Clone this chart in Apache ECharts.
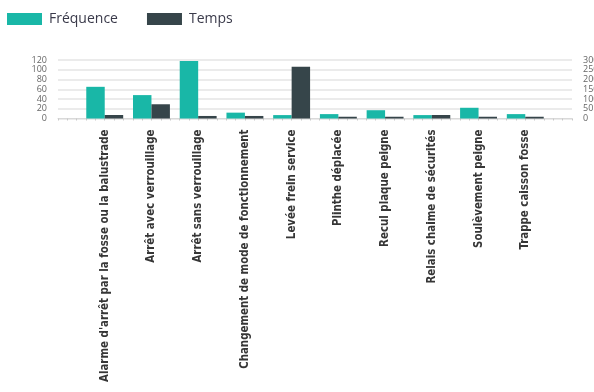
<!DOCTYPE html>
<html>
<head>
<meta charset="utf-8">
<script src="https://cdn.jsdelivr.net/npm/echarts@6/dist/echarts.min.js"></script>
<style>
  html, body { margin: 0; padding: 0; background: #ffffff; }
  #chart { width: 594px; height: 392px; }
</style>
</head>
<body>
<div id="chart"></div>
<script>
// Incident categories (blank slots pad both ends of the axis)
const categories = [
  'Alarme d\'arrêt par la fosse ou la balustrade',
  'Arrêt avec verrouillage',
  'Arrêt sans verrouillage',
  'Changement de mode de fonctionnement',
  'Levée frein service',
  'Plinthe déplacée',
  'Recul plaque peigne',
  'Relais chaime de sécurités',
  'Soulèvement peigne',
  'Trappe caisson fosse'
];
// Number of occurrences (left axis)
const frequence = [65, 48, 118, 12, 7, 9, 17, 7, 22, 9];
// Time (right axis)
const temps = [18, 73, 13, 13, 266, 9, 9, 18, 9, 9];
const leftTicks = [0, 120, 20];
const rightTicks = [0, 300, 50];

const axisCats = [''].concat(categories, ['']);
const pad = v => [null].concat(v, [null]);

// Pick a condensed face for the category labels if one is installed
const ctx = document.createElement('canvas').getContext('2d');
function widthOf(family) {
  ctx.font = 'bold 40px ' + family;
  return ctx.measureText('Changement de mode de fonctionnement').width;
}
const baseW = widthOf('monospace');
let labelFont = 'sans-serif';
for (const f of ['"Liberation Sans Narrow"', '"DejaVu Sans Condensed"', '"Roboto Condensed"']) {
  if (Math.abs(widthOf(f + ', monospace') - baseW) > 0.5) { labelFont = f; break; }
}
// size the labels so the longest one spans about 253px
ctx.font = 'bold 13px ' + labelFont;
const longW = ctx.measureText(categories[0]).width;
const labelSize = Math.min(13, Math.max(10, 13 * 253 / longW));

const chart = echarts.init(document.getElementById('chart'), null, { renderer: 'canvas' });

chart.setOption({
  animation: false,
  textStyle: { fontFamily: '"Open Sans", sans-serif' },
  legend: {
    left: 2, top: 7,
    itemWidth: 35, itemHeight: 12, itemGap: 29,
    icon: 'rect',
    textStyle: { fontSize: 14, color: '#3a3a4a', fontFamily: '"Open Sans", sans-serif', padding: [0, 0, 0, 2] },
    data: ['Fréquence', 'Temps']
  },
  grid: { left: 58, right: 22, top: 60, bottom: 273.5, containLabel: false, outerBoundsMode: 'none' },
  xAxis: [
    {
      type: 'category',
      data: axisCats,
      boundaryGap: false,
      axisLine: { show: true, lineStyle: { color: '#d9d9d9', width: 1 } },
      axisTick: { show: false },
      axisLabel: {
        interval: 0, rotate: 90, margin: 11, hideOverlap: false,
        fontSize: labelSize, fontWeight: 'bold', color: '#363636', fontFamily: labelFont
      },
      splitLine: { show: false }
    },
    {
      // fine tick marks along the base line
      type: 'value', position: 'bottom', min: 0, max: 55, interval: 1,
      axisLine: { show: false },
      axisTick: { show: true, length: 2, lineStyle: { color: '#c8c8c8' } },
      axisLabel: { show: false },
      splitLine: { show: false }
    }
  ],
  yAxis: [
    {
      type: 'value', min: leftTicks[0], max: leftTicks[1], interval: leftTicks[2],
      axisLine: { show: false }, axisTick: { show: false },
      axisLabel: { fontSize: 9, color: '#666', margin: 11, showMinLabel: true, showMaxLabel: true, hideOverlap: false },
      splitLine: { lineStyle: { color: '#e4e4e4', width: 1.5 } }
    },
    {
      type: 'value', min: rightTicks[0], max: rightTicks[1], interval: rightTicks[2],
      position: 'right',
      axisLine: { show: false }, axisTick: { show: false },
      axisLabel: { fontSize: 9, color: '#666', margin: 11, showMinLabel: true, showMaxLabel: true, hideOverlap: false },
      splitLine: { show: false }
    }
  ],
  series: [
    {
      name: 'Fréquence', type: 'bar', yAxisIndex: 0, xAxisIndex: 0,
      data: pad(frequence),
      barGap: '0%', barCategoryGap: '21%',
      itemStyle: { color: '#19b7a7' }
    },
    {
      name: 'Temps', type: 'bar', yAxisIndex: 1, xAxisIndex: 0,
      data: pad(temps),
      itemStyle: { color: '#36454a' }
    }
  ]
});
</script>
</body>
</html>
